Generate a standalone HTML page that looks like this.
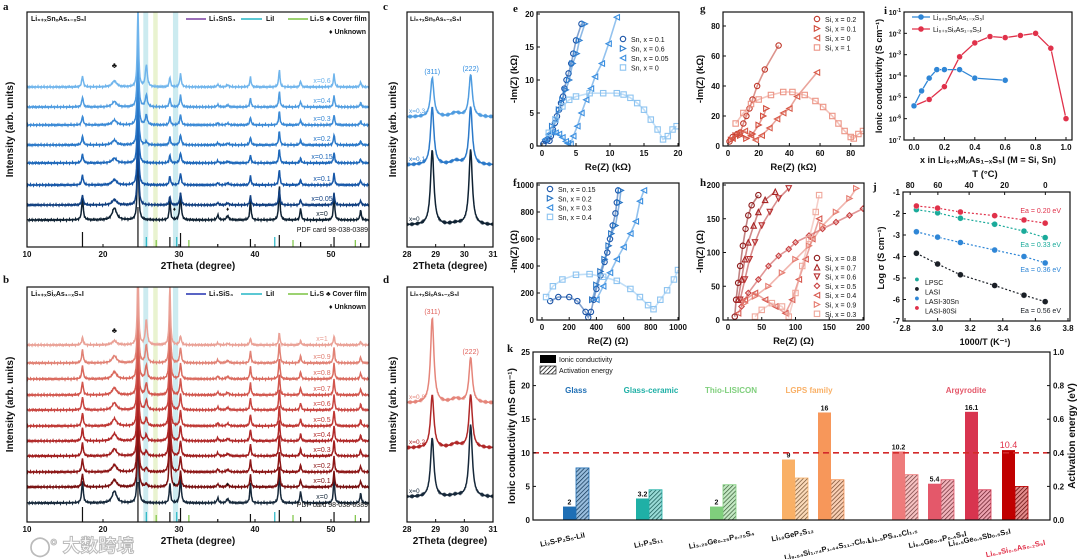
<!DOCTYPE html>
<html><head><meta charset="utf-8"><style>
html,body{margin:0;padding:0;background:#fff;}
svg{display:block;font-family:"Liberation Sans","Noto Sans CJK SC",sans-serif;}
</style></head><body>
<svg id="fig" width="1080" height="559" viewBox="0 0 1080 559" xmlns="http://www.w3.org/2000/svg">
<defs>
<pattern id="hatch" patternUnits="userSpaceOnUse" width="3" height="3" patternTransform="rotate(45)"><rect width="3" height="3" fill="#fff"/><line x1="0" y1="0" x2="0" y2="3" stroke="#000" stroke-width="1.4"/></pattern>
</defs>
</svg>
<script>
// ---------- DATA ----------
const xrdPeakPos=[17.3,21.5,24.6,25.7,28.8,30.2,35.1,36.4,39.4,43.2,46.0,50.4,53.9];
const xrdPeakH=[22,12,80,0,20,26,5,4,20,35,12,26,10];
const xrdPeakW=[0.12,0.35,0.1,0.15,0.1,0.12,0.12,0.18,0.1,0.1,0.1,0.1,0.1];
const snLabels=['x=0','x=0.05','x=0.1','x=0.15','x=0.2','x=0.3','x=0.4','x=0.6'];
const snBase=[220,205,185,163,145,125,107,87];
const snScale=[1,0.45,0.45,0.4,0.4,0.4,0.45,0.5];
const snExtra=[0,0,0,0,3,10,12,22];
const snColors=['#0f2233','#103f80','#1657a8','#1e68ba','#2b79c9','#3b8ad6','#4f9ce0','#70b5ec'];
const siLabels=['x=0','x=0.1','x=0.2','x=0.3','x=0.4','x=0.5','x=0.6','x=0.7','x=0.8','x=0.9','x=1'];
const siBase=[503,487,472,456,441,426,410,395,379,363,345];
const siScale=[1,0.6,0.6,0.6,0.6,0.6,0.6,0.6,0.6,0.6,0.35];
const siExtra=[0,3,4,5,6,8,10,12,14,18,25];
const siColors=['#16283a','#781010','#8c1616','#a01e1e','#b02828','#bf3733','#c94641','#d2564d','#da6a5e','#e18275','#eaa196'];
const stickPos=[17.3,24.6,28.8,30.2,35.1,39.4,43.2,46.0,50.4,53.9];
const stickH=[15,40,10,14,3,8,12,5,10,4];
const liiPos=[25.7,29.7,42.6];const li2sPos=[27.0,31.3,45.0,53.2];
// c/d zoom
const cLabels=['x=0','x=0.1','x=0.3'];const cBase=[225,165,117];
const c311=[75,58,39];const c222=[75,58,42];const cCol=['#0f2233','#2b79c9','#4f9ce0'];
const dLabels=['x=0','x=0.2','x=0.8'];const dBase=[497,448,403];
const d311=[59,53,85];const d222=[72,53,45];const dCol=['#16283a','#b02828','#e5857a'];
// EIS e (kOhm)
const eNames=['Sn, x = 0.1','Sn, x = 0.6','Sn, x = 0.05','Sn, x = 0'];
const eMark=['o','r','l','s'];const eCol=['#1c55a8','#2f7fd0','#3b8fe0','#8cc3f0'];
const eX=[[0.2,0.5,0.8,1.1,1.3,1.6,1.9,2.2,2.5,2.8,3.1,3.3,3.6,3.9,4.3,4.6,5,5.8],
[1.5,2,2.5,3,3.5,4,4.5,5.1,5.5,6.3],
[0.5,1,1.5,2,2.5,3,3.5,3.8,4.2,4.6,5.2,5.8,6.5,7.2,7.8,8.8,9.8,11],
[1,2,3,4,5,7,9,11,12,13,14,15,16,17,17.8,18.5,19.2,19.8]];
const eY=[[0.3,0.8,1,0.8,1.5,2.5,3.5,4.5,5.5,6.5,7.5,8.7,10,11,12.5,14,16,18.5],
[3,4,5.5,7,8.5,10,12.5,14,16,18.5],
[1,1.8,2.1,2,1.8,1.3,0.7,0.4,0.3,1.5,3,5,7,8.7,10.5,12.5,15.5,19.5],
[2,4,6,7,7.5,8,8,8,7.8,7.3,6.5,5.5,4,2.5,1,1.5,2.5,3]];
// EIS g (kOhm)
const gNames=['Si, x = 0.2','Si, x = 0.1','Si, x = 0','Si, x = 1'];
const gMark=['o','r','l','s'];const gCol=['#c0392b','#d24a3a','#d85a48','#ec9485'];
const gX=[[1,3,6,8,10,12,14,16,19,24,33],[2,5,8,12,16,20,23,25],[3,7,11,15,18,22,27,32,36,40,45,58],[5,10,15,20,28,36,42,50,57,62,68,72,76,80,82,85,88]];
const gY=[[3,6,8,9,15,20,25,31,40,51,67],[4,7,7,5,8,14,20,25],[5,9,10,7,4,7,12,18,22,25,33,49],[15,22,28,31,34,36,36,34,30,26,20,15,10,6,5,8,10]];
// EIS f (Ohm)
const fNames=['Sn, x = 0.15','Sn, x = 0.2','Sn, x = 0.3','Sn, x = 0.4'];
const fMark=['o','r','l','s'];const fCol=['#1c55a8','#2573c4','#3b8fe0','#8cc3f0'];
const fX=[[60,120,200,260,320,340,360,380,400,430,460,480,500,520,540,550,560],[370,400,430,460,490,510,540,570,580],[400,450,500,550,600,650,690,720,750],[30,80,150,250,350,450,550,650,720,780,820,870,920,970,1000]];
const fY=[[140,170,170,140,60,20,60,150,230,330,430,500,600,700,790,870,960],[150,260,360,450,550,640,700,870,960],[150,250,350,450,540,640,730,880,960],[170,250,300,335,340,320,290,230,170,110,80,150,220,300,370]];
// EIS h (Ohm)
const hNames=['Si, x = 0.8','Si, x = 0.7','Si, x = 0.6','Si, x = 0.5','Si, x = 0.4','Si, x = 0.9','Si, x = 0.3'];
const hMark=['o','u','d','D','l','r','s'];const hCol=['#8e1b1b','#a82424','#b83030','#c84040','#d85a50','#e57a6e','#efa89c'];
const hX=[[10,12,15,18,22,26,30,35,45],[15,20,25,30,38,45,55,70],[18,25,32,40,50,62,75,90],[20,30,45,60,75,90,100,120,140,160,180,200],[15,25,40,55,70,85,95,105,115,125,135],[25,40,60,80,100,120,140,160,180,190],[40,50,65,80,90,100,110,120,130,135]];
const hY=[[5,30,55,80,110,135,155,170,185],[30,60,90,115,140,160,178,190],[30,60,90,115,140,160,180,195],[20,40,60,80,95,105,115,125,135,145,155,165],[10,30,40,30,20,10,30,60,90,120,150],[25,35,50,70,90,110,140,160,180,195],[5,15,25,20,5,40,80,120,160,185]];
// i conductivity vs x
const iSnX=[0,0.05,0.1,0.15,0.2,0.3,0.4,0.6];const iSnLog=[-5.4,-4.7,-4.1,-3.7,-3.7,-3.7,-4.1,-4.2];
const iSiX=[0,0.1,0.2,0.3,0.4,0.5,0.6,0.7,0.8,0.9,1.0];const iSiLog=[-5.4,-5.1,-4.5,-3.1,-2.45,-2.15,-2.2,-2.1,-2.0,-2.7,-6.0];
// j Arrhenius
const jInvT=[2.87,3.0,3.14,3.35,3.53,3.66];
const jNames=['LPSC','LASI','LASI-30Sn','LASI-80Si'];const jCol=['#1aaa9a','#1a1f26','#2f86d6','#e0314a'];
const jLog=[[-1.82,-1.97,-2.22,-2.5,-2.82,-3.12],[-3.85,-4.35,-4.85,-5.35,-5.8,-6.1],[-2.85,-3.1,-3.35,-3.7,-4.0,-4.3],[-1.65,-1.75,-1.93,-2.1,-2.3,-2.45]];
const jTempTicks=[80,60,40,20,0];
// k bars
const kCond=[2,3.2,2,9,16,10.2,5.4,16.1,10.4];
const kEa=[0.31,0.18,0.21,0.25,0.24,0.27,0.24,0.18,0.20];
const kCol=['#1f6fb5','#1fb0a6','#7fcf7c','#f9b066','#f7975a','#ee7b7b','#e4586a','#d8344f','#c00000'];
const kVal=['2','3.2','2','9','16','10.2','5.4','16.1','10.4'];

// ---------- helpers ----------
const svg=document.getElementById('fig');const NS='http://www.w3.org/2000/svg';
function mk(tag,attrs,name,parent){const el=document.createElementNS(NS,tag);for(const k in attrs)el.setAttribute(k,attrs[k]);


(parent||svg).appendChild(el);return el;}
function txt(x,y,s,name,o){o=o||{};const t=mk('text',{x:x,y:y,'font-size':o.fs||8,'font-weight':o.fw||'bold',fill:o.fill||'#111','text-anchor':o.anchor||'middle'},name);
if(o.rot)t.setAttribute('transform','rotate('+o.rot+' '+x+' '+y+')');t.textContent=s;return t;}
function box(x0,y0,x1,y1,name){mk('rect',{x:x0,y:y0,width:x1-x0,height:y1-y0,fill:'none',stroke:'#111','stroke-width':1.2},name);}
function lin(d0,d1,r0,r1){return v=>r0+(v-d0)*(r1-r0)/(d1-d0);}
function clip(id,x0,y0,x1,y1){const c=document.createElementNS(NS,'clipPath');c.setAttribute('id',id);const r=document.createElementNS(NS,'rect');r.setAttribute('x',x0);r.setAttribute('y',y0);r.setAttribute('width',x1-x0);r.setAttribute('height',y1-y0);c.appendChild(r);svg.querySelector('defs').appendChild(c);}
function xticks(sx,vals,y,name,lab){vals.forEach(v=>{const X=sx(v);mk('line',{x1:X,x2:X,y1:y,y2:y-3,stroke:'#111','stroke-width':1},name+'-tick');if(lab!==false)txt(X,y+10,lab?lab(v):v,name+'-label');});}
function yticks(sy,vals,x,name,lab,right){vals.forEach(v=>{const Y=sy(v);mk('line',{x1:x,x2:right?x-3:x+3,y1:Y,y2:Y,stroke:'#111','stroke-width':1},name+'-tick');txt(right?x+3:x-3,Y+3,lab?lab(v):v,name+'-label',{anchor:right?'start':'end'});});}
function marker(kind,x,y,col,name,g){const r=2.7;let el;
if(kind==='o')el=mk('circle',{cx:x,cy:y,r:r,fill:'none',stroke:col,'stroke-width':1.1},name,g);
else if(kind==='s')el=mk('rect',{x:x-r,y:y-r,width:2*r,height:2*r,fill:'none',stroke:col,'stroke-width':1.1},name,g);
else{let p;if(kind==='r')p=[[x-r,y-r],[x+r,y],[x-r,y+r]];else if(kind==='l')p=[[x+r,y-r],[x-r,y],[x+r,y+r]];else if(kind==='u')p=[[x,y-r],[x+r,y+r],[x-r,y+r]];else if(kind==='d')p=[[x-r,y-r],[x+r,y-r],[x,y+r]];else p=[[x,y-r],[x+r,y],[x,y+r],[x-r,y]];
el=mk('polygon',{points:p.map(q=>q.join(',')).join(' '),fill:'none',stroke:col,'stroke-width':1.1},name,g);}return el;}
function panelLetter(x,y,s){const t=txt(x,y,s,'panel-label-'+s,{fs:11,anchor:'start'});t.setAttribute('font-family','Liberation Serif, serif');}

// ---------- XRD panels ----------
function xrdPanel(id,y0,y1,labels,base,scale,extra,colors,title,leg1,leg1col,top){
 const x0=27,x1=369;const sx=lin(10,55,x0,x1);clip('cl'+id,x0,y0,x1,y1);
 const g=mk('g',{'clip-path':'url(#cl'+id+')'},'xrd-traces-'+id);
 [[25.7,25.95,'#bfe6ec'],[27.0,27.2,'#e3f0c4'],[29.6,29.9,'#bfe6ec']].forEach((b,i)=>{mk('rect',{x:sx(b[0])-3,y:y0,width:sx(b[1])-sx(b[0])+3,height:y1-y0,fill:b[2],opacity:0.8},'highlight-band',g);});
 labels.forEach((lb,i)=>{let d='';for(let X=x0;X<=x1;X+=0.5){const t=10+(X-x0)*45/(x1-x0);let s=0;
  xrdPeakPos.forEach((p,k)=>{let h=xrdPeakH[k]*(k===2?1:scale[i]);if(k===3)h=extra[i];if(id==='b'&&k===4&&i>0)h=60;const w=xrdPeakW[k];s+=h*w*w/((t-p)*(t-p)+w*w);});
  const jit=0.9*Math.sin(X*7.3+i)*Math.sin(X*2.1);
  d+=(d?'L':'M')+X.toFixed(1)+','+(base[i]-s+jit).toFixed(1);}
  mk('path',{d:d,fill:'none',stroke:colors[i],'stroke-width':1.5},'xrd-trace-'+lb,g);
  txt(322,base[i]-4,lb,'trace-label',{fs:7,fill:colors[i],fw:'normal'});});
 stickPos.forEach((p,k)=>mk('line',{x1:sx(p),x2:sx(p),y1:y1,y2:y1-stickH[k],stroke:'#111','stroke-width':1.2},'reference-stick'));
 liiPos.forEach(p=>mk('line',{x1:sx(p),x2:sx(p),y1:y1,y2:y1-10,stroke:'#25b5c5','stroke-width':1.2},'lii-stick'));
 li2sPos.forEach(p=>mk('line',{x1:sx(p),x2:sx(p),y1:y1,y2:y1-7,stroke:'#7cc442','stroke-width':1.2},'li2s-stick'));
 box(x0,y0,x1,y1,'xrd-frame-'+id);xticks(sx,[10,20,30,40,50],y1,'x-axis-'+id);
 txt(198,y1+22,'2Theta (degree)','x-axis-title-'+id,{fs:10});
 txt(13,(y0+y1)/2,'Intensity (arb. units)','y-axis-title-'+id,{fs:10,rot:-90});
 txt(31,y0+9,title,'composition-title-'+id,{fs:7,anchor:'start'});
 txt(368,y1-15,'PDF card 98-038-0389','pdf-card-label',{fs:7,anchor:'end',fw:'normal'});
 const ly=y0+9;mk('line',{x1:186,x2:206,y1:ly-2,y2:ly-2,stroke:leg1col,'stroke-width':1.5},'legend-line');txt(209,ly,leg1,'legend-entry',{fs:7,anchor:'start'});
 mk('line',{x1:241,x2:262,y1:ly-2,y2:ly-2,stroke:'#25b5c5','stroke-width':1.5},'legend-line');txt(266,ly,'LiI','legend-entry',{fs:7,anchor:'start'});
 mk('line',{x1:288,x2:308,y1:ly-2,y2:ly-2,stroke:'#7cc442','stroke-width':1.5},'legend-line');txt(310,ly,'Li₂S ♣ Cover film','legend-entry',{fs:7,anchor:'start'});
 txt(366,ly+13,'♦ Unknown','legend-entry',{fs:7,anchor:'end'});
 txt(sx(21.5),top,'♣','cover-film-marker',{fs:8});txt(sx(29.4),y1-36,'♦','unknown-marker',{fs:6});txt(sx(36.4),y1-36,'♦','unknown-marker',{fs:6});
}
xrdPanel('a',12,247,snLabels,snBase,snScale,snExtra,snColors,'Li₆₊ₓSnₓAs₁₋ₓS₅I','Li₄SnS₄','#7a3fa0',68);
xrdPanel('b',287,522,siLabels,siBase,siScale,siExtra,siColors,'Li₆₊ₓSiₓAs₁₋ₓS₅I','Li₄SiS₄','#2230b0',333);
panelLetter(3,10,'a');panelLetter(3,283,'b');

function zoomPanel(id,y0,y1,labels,base,h311,h222,cols,title,lcol){
 const x0=407,x1=493;const sx=lin(28,31,x0,x1);clip('cl'+id,x0,y0,x1,y1);const g=mk('g',{'clip-path':'url(#cl'+id+')'},'zoom-traces-'+id);
 labels.forEach((lb,i)=>{let d='';for(let X=x0;X<=x1;X+=0.5){const t=28+(X-x0)*3/(x1-x0);const w=0.07;
  let s=h311[i]*w*w/((t-28.88)**2+w*w)+h222[i]*w*w/((t-30.22)**2+w*w)+4*0.2*0.2/((t-29.7)**2+0.04)*(i>0?1:0.4);
  const jit=0.6*Math.sin(X*5.7+i);
  d+=(d?'L':'M')+X.toFixed(1)+','+(base[i]-s+jit).toFixed(1);}
  mk('path',{d:d,fill:'none',stroke:cols[i],'stroke-width':1.5},'zoom-trace-'+lb,g);
  txt(x0+2,base[i]-4,lb,'trace-label',{fs:6.5,fill:cols[i],anchor:'start',fw:'normal'});});
 const top=labels.length-1;txt(sx(28.88),base[top]-h311[top]-4,'(311)','peak-label-311',{fs:7,fill:lcol,fw:'normal'});txt(sx(30.22),base[top]-h222[top]-4,'(222)','peak-label-222',{fs:7,fill:lcol,fw:'normal'});
 box(x0,y0,x1,y1,'zoom-frame-'+id);xticks(sx,[28,29,30,31],y1,'x-axis-'+id);
 txt(450,y1+22,'2Theta (degree)','x-axis-title-'+id,{fs:10});txt(396,(y0+y1)/2,'Intensity (arb. units)','y-axis-title-'+id,{fs:10,rot:-90});
 txt(410,y0+9,title,'composition-title-'+id,{fs:6.5,anchor:'start'});
}
zoomPanel('c',12,247,cLabels,cBase,c311,c222,cCol,'Li₆₊ₓSnₓAs₁₋ₓS₅I','#2b8ae0');
zoomPanel('d',287,522,dLabels,dBase,d311,d222,dCol,'Li₆₊ₓSiₓAs₁₋ₓS₅I','#e0605a');
panelLetter(383,10,'c');panelLetter(383,283,'d');

// ---------- Nyquist ----------
function nyq(id,x0,x1,y0,y1,dx,dy,xt,yt,Xs,Ys,marks,cols,names,xlab,ylab,legX,legY,legStep){
 const sx=lin(dx[0],dx[1],x0+5,x1-1),sy=lin(dy[0],dy[1],y1,y0+2);
 clip('cl'+id,x0,y0,x1,y1);const g=mk('g',{'clip-path':'url(#cl'+id+')'},'nyquist-series-'+id);
 Xs.forEach((xs,i)=>{mk('polyline',{points:xs.map((v,k)=>sx(v)+','+sy(Ys[i][k])).join(' '),fill:'none',stroke:cols[i],'stroke-width':1.6,opacity:0.55},'trace-'+names[i],g);
  xs.forEach((v,k)=>marker(marks[i],sx(v),sy(Ys[i][k]),cols[i],'point-'+names[i],g));});
 box(x0,y0,x1,y1,'plot-frame-'+id);xticks(sx,xt,y1,'x-axis-'+id);yticks(sy,yt,x0,'y-axis-'+id);
 txt((x0+x1)/2,y1+24,xlab,'x-axis-title-'+id,{fs:9.5});txt(x0-20,(y0+y1)/2,ylab,'y-axis-title-'+id,{fs:9.5,rot:-90});
 names.forEach((n,i)=>{marker(marks[i],legX,legY+i*legStep-3,cols[i],'legend-marker');txt(legX+8,legY+i*legStep,n,'legend-entry',{fs:7,anchor:'start',fw:'normal'});});
}
nyq('e',537,679,12,146,[0,20],[0,20],[0,5,10,15,20],[0,5,10,15,20],eX,eY,eMark,eCol,eNames,'Re(Z) (kΩ)','-Im(Z) (kΩ)',623,42,9.5);
nyq('g',723,864,12,146,[0,88],[0,88],[0,20,40,60,80],[0,20,40,60,80],gX,gY,gMark,gCol,gNames,'Re(Z) (kΩ)','-Im(Z) (kΩ)',817,22,9.5);
nyq('f',537,679,183,320,[0,1000],[0,1000],[0,200,400,600,800,1000],[0,200,400,600,800,1000],fX,fY,fMark,fCol,fNames,'Re(Z) (Ω)','-Im(Z) (Ω)',550,192,9.3);
nyq('h',723,864,183,320,[0,200],[0,200],[0,50,100,150,200],[0,50,100,150,200],hX,hY,hMark,hCol,hNames,'Re(Z) (Ω)','-Im(Z) (Ω)',817,261,9.3);
panelLetter(513,12,'e');panelLetter(700,12,'g');panelLetter(513,186,'f');panelLetter(700,186,'h');

// ---------- i ----------
(function(){const x0=904,x1=1072,y0=12,y1=140;const sx=lin(0,1,914,1066),sy=lin(-1,-7,y0,y1);
 box(x0,y0,x1,y1,'plot-frame-i');xticks(sx,[0,0.2,0.4,0.6,0.8,1.0],y1,'x-axis-i',v=>v.toFixed(1));
 [-1,-2,-3,-4,-5,-6,-7].forEach(v=>{const Y=sy(v);mk('line',{x1:x0,x2:x0+3,y1:Y,y2:Y,stroke:'#111'},'y-axis-i-tick');const t=txt(x0-3,Y+3,'10','y-axis-i-label',{fs:7,anchor:'end'});const s=document.createElementNS(NS,'tspan');s.setAttribute('dy','-3');s.setAttribute('font-size','5');s.textContent=String(v);t.appendChild(s);});
 [[iSiX,iSiLog,'#e0314a'],[iSnX,iSnLog,'#2f86d6']].forEach((s,j)=>{mk('polyline',{points:s[0].map((v,k)=>sx(v)+','+sy(s[1][k])).join(' '),fill:'none',stroke:s[2],'stroke-width':1.3},'series-line-i');
  s[0].forEach((v,k)=>mk('circle',{cx:sx(v),cy:sy(s[1][k]),r:3,fill:s[2],stroke:'#fff','stroke-width':0.5},'series-point-i'));});
 [['Li₆₊ₓSnₓAs₁₋ₓS₅I','#2f86d6',17],['Li₆₊ₓSiₓAs₁₋ₓS₅I','#e0314a',29]].forEach(l=>{mk('line',{x1:912,x2:930,y1:l[2],y2:l[2],stroke:l[1],'stroke-width':1.3},'legend-line');mk('circle',{cx:921,cy:l[2],r:2.8,fill:l[1]},'legend-marker');txt(933,l[2]+3,l[0],'legend-entry',{fs:7,anchor:'start',fw:'normal'});});
 txt(988,163,'x  in Li₆₊ₓMₓAs₁₋ₓS₅I (M = Si, Sn)','x-axis-title-i',{fs:9});txt(882,76,'Ionic conductivity (S cm⁻¹)','y-axis-title-i',{fs:9,rot:-90});
 panelLetter(884,14,'i');})();

// ---------- j ----------
(function(){const x0=903,x1=1070,y0=192,y1=321;const sx=lin(2.8,3.8,905,1068),sy=lin(-1,-7,y0,y1);
 box(x0,y0,x1,y1,'plot-frame-j');xticks(sx,[2.8,3.0,3.2,3.4,3.6,3.8],y1,'x-axis-j',v=>v.toFixed(1));yticks(sy,[-1,-2,-3,-4,-5,-6,-7],x0,'y-axis-j');
 jTempTicks.forEach(T=>{const X=sx(1000/(T+273.15));mk('line',{x1:X,x2:X,y1:y0,y2:y0+3,stroke:'#111'},'top-axis-tick');txt(X,y0-4,T,'top-axis-label');});
 txt(985,177,'T (°C)','top-axis-title',{fs:9.5});txt(985,345,'1000/T  (K⁻¹)','x-axis-title-j',{fs:9});txt(884,258,'Log σ (S cm⁻¹)','y-axis-title-j',{fs:9,rot:-90});
 jLog.forEach((s,i)=>{mk('polyline',{points:jInvT.map((v,k)=>sx(v)+','+sy(s[k])).join(' '),fill:'none',stroke:jCol[i],'stroke-width':1.2,'stroke-dasharray':'2,2'},'fit-line-'+jNames[i]);
  jInvT.forEach((v,k)=>mk('circle',{cx:sx(v),cy:sy(s[k]),r:3,fill:jCol[i],stroke:'#fff','stroke-width':0.4},'point-'+jNames[i]));
  txt(917,285+i*9.5-3,'●','legend-marker',{fs:9,fill:jCol[i]});txt(925,285+i*9.5,jNames[i],'legend-entry',{fs:7,anchor:'start',fw:'normal'});});
 [['Ea = 0.20 eV',213,'#e0314a'],['Ea = 0.33 eV',247,'#1aaa9a'],['Ea = 0.36 eV',272,'#2f86d6'],['Ea = 0.56 eV',313,'#1a1f26']].forEach(e=>txt(1061,e[1],e[0],'activation-energy-label',{fs:7,anchor:'end',fill:e[2],fw:'normal'}));
 panelLetter(873,190,'j');})();

// ---------- k ----------
(function(){const x0=533,x1=1050,y0=352,y1=520;const sy=lin(0,25,y1,y0),sa=lin(0,1,y1,y0);
 const centers=[576,649,723,795,831,905,941,978,1015];const bw=13;
 kCond.forEach((v,i)=>{const c=centers[i];mk('rect',{x:c-bw,y:sy(v),width:bw,height:y1-sy(v),fill:kCol[i]},'conductivity-bar-'+i);
  mk('rect',{x:c,y:sa(kEa[i]),width:bw,height:y1-sa(kEa[i]),fill:'url(#hatch)',stroke:kCol[i],'stroke-width':0.8},'activation-bar-'+i);
  mk('rect',{x:c,y:sa(kEa[i]),width:bw,height:y1-sa(kEa[i]),fill:kCol[i],opacity:0.45},'activation-bar-tint-'+i);
  txt(c-bw/2,sy(v)-2,kVal[i],'bar-value-label',{fs:i===8?9:7,fill:i===8?'#e0314a':'#111',fw:i===8?'normal':'bold'});});
 mk('line',{x1:x0,x2:x1,y1:sy(10),y2:sy(10),stroke:'#d42a2a','stroke-width':1.6,'stroke-dasharray':'6,4'},'threshold-line');
 box(x0,y0,x1,y1,'plot-frame-k');yticks(sy,[0,5,10,15,20,25],x0,'y-axis-left-k');yticks(sa,[0,0.2,0.4,0.6,0.8,1.0],x1,'y-axis-right-k',v=>v.toFixed(1),true);
 txt(515,436,'Ionic conductivity (mS cm⁻¹)','y-axis-left-title',{fs:10,rot:-90});txt(1075,436,'Activation energy (eV)','y-axis-right-title',{fs:10,rot:-90});
 mk('rect',{x:540,y:355,width:16,height:8,fill:'#000'},'legend-swatch-solid');txt(559,362,'Ionic conductivity','legend-entry',{fs:7,anchor:'start',fw:'normal'});
 mk('rect',{x:540,y:366,width:16,height:8,fill:'url(#hatch)',stroke:'#000','stroke-width':0.6},'legend-swatch-hatched');txt(559,373,'Activation energy','legend-entry',{fs:7,anchor:'start',fw:'normal'});
 [['Glass',576,'#1f6fb5'],['Glass-ceramic',651,'#1fb0a6'],['Thio-LISICON',731,'#7fcf7c'],['LGPS family',809,'#f9b066'],['Argyrodite',966,'#e4586a']].forEach(c=>txt(c[1],393,c[0],'category-group-label',{fs:8,fill:c[2]}));
 [['Li₂S-P₂S₅-LiI',563,542],['Li₇P₃S₁₁',649,545],['Li₃.₂₅Ge₀.₂₅P₀.₇₅S₄',722,542],['Li₁₀GeP₂S₁₂',793,537],['Li₉.₅₄Si₁.₇₄P₁.₄₄S₁₁.₇Cl₀.₃',828,551],['Li₅.₅PS₄.₅Cl₁.₅',893,538],['Li₆.₆Ge₀.₆P₀.₄S₅I',938,542],['Li₆.₅Ge₀.₅Sb₀.₅S₅I',980,540],['Li₆.₈Si₀.₈As₀.₂S₅I',1016,551]].forEach((c,i)=>txt(c[1],c[2],c[0],'category-label',{fs:7.5,rot:-12,fill:i===8?'#e0314a':'#111'}));
 panelLetter(507,352,'k');})();

// watermark
txt(30,552,'⬤° 大数跨境','watermark',{fs:18,anchor:'start',fill:'#ffffff',fw:'bold'}).setAttribute('stroke','#bbbbbb');
</script>
</body></html>
